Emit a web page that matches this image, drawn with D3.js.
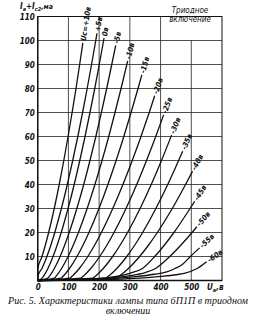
<!DOCTYPE html>
<html><head><meta charset="utf-8">
<script src="https://cdn.jsdelivr.net/npm/d3@7"></script>
<style>
html,body{margin:0;padding:0;background:#fff;}
svg{display:block;}
.tk text{font-family:"DejaVu Sans Condensed","DejaVu Sans",sans-serif;font-stretch:condensed;font-style:italic;font-weight:bold;font-size:8px;fill:#111;}
</style></head>
<body>
<script>
// grid voltages of the family (labels)
const gridVoltageLabels = ["Uс=+10в","+5в","0в","-5в","-10в","-15в","-20в","-25в","-30в","-35в","-40в","-45в","-50в","-55в","-60в"];
// anode voltage (V) of each curve
const anodeV = [
  [0,0.4,14,25.5,35.7,53.9,70.1,85,98.9,112,124.7,136.6,147],
  [0,1.2,13.8,30,43.5,55.6,77.2,96.4,114,130.6,146.1,161.1,175.3,189,193],
  [0,14.5,20.3,33.3,50,64,76.6,98.8,118.8,137,154.1,170.2,185.7,200.4,214.6,216],
  [0,33.3,39.7,54.2,73,88.6,102.6,127.5,149.8,170.2,189.3,207.3,224.6,241.1,254],
  [0,53.9,61.1,77.7,99,116.8,132.7,161,186.3,209.5,231.3,251.7,271.4,293],
  [0,76.1,84.4,103.5,128,148.5,166.9,199.5,228.6,255.3,280.4,303.9,326.6,339],
  [0,104.2,113.7,135.4,163.2,186.5,207.4,244.4,277.5,307.8,336.3,363.1,381],
  [0,139.9,149.9,172.7,202,226.6,248.5,287.5,322.4,354.3,384.3,410],
  [0,100,179.2,189.6,213.4,244,269.7,292.5,333.3,369.7,403,436],
  [0,120,221.2,232.3,257.6,290,317.3,341.6,384.8,423.4,458.8,472],
  [0,150,254.6,267,295.4,331.8,362.3,389.6,438.1,481.4,504],
  [0,150,250,300,341,381,414,443.5,496,511],
  [0,150,250,300,350,384,430,468,502.5,518],
  [0,150,250,320,380,420,447,470,497,527],
  [0,150,250,332,400,450,477,519,550]
];
// anode + screen current (mA) of each curve
const anodeI = [
  [0,5,10,15,20,30,40,50,60,70,80,90,99],
  [0,2,5,10,15,20,30,40,50,60,70,80,90,100,103],
  [0,1,2,5,10,15,20,30,40,50,60,70,80,90,100,101],
  [0,1,2,5,10,15,20,30,40,50,60,70,80,90,98],
  [0,1,2,5,10,15,20,30,40,50,60,70,80,91.5],
  [0,1,2,5,10,15,20,30,40,50,60,70,80,85.7],
  [0,1,2,5,10,15,20,30,40,50,60,70,77],
  [0,1,2,5,10,15,20,30,40,50,60,69],
  [0,0.5,1,2,5,10,15,20,30,40,50,60.6],
  [0,0.5,1,2,5,10,15,20,30,40,50,53.9],
  [0,0.6,1,2,5,10,15,20,30,40,45.5],
  [0,0.5,1.6,3,5,10,15,20,30,33],
  [0,0.4,1.2,2,3.3,5,10,15,20,22.4],
  [0,0.3,0.9,1.6,2.6,3.6,5,6.6,10,13.6],
  [0,0.2,0.5,1,1.7,2.4,3,5,7.8]
];
const xTicks = [0,100,200,300,400,500];
const yTicks = [10,20,30,40,50,60,70,80,90,100,110];
const xGrid = [100,200,300,400,500];
const yGrid = [10,20,30,40,50,60,70,80,90,100];
const captionLines = ["Рис. 5. Характеристики лампы типа 6П1П в триодном","включении"];
const boxText = ["Триодное","включение"];

const W=259,H=317;
const svg=d3.select("body").append("svg").attr("width",W).attr("height",H);
svg.append("rect").attr("width",W).attr("height",H).attr("fill","#fff");

const x=d3.scaleLinear().domain([0,600]).range([37.7,222]);
const y=d3.scaleLinear().domain([0,110]).range([280.5,16.5]);

const g=svg.append("g");
// grid
g.selectAll(".hg").data(yGrid).join("line")
  .attr("x1",x(0)).attr("x2",x(600)).attr("y1",d=>y(d)).attr("y2",d=>y(d))
  .attr("stroke","#222").attr("stroke-width",0.8);
g.selectAll(".vg").data(xGrid).join("line")
  .attr("x1",d=>x(d)).attr("x2",d=>x(d)).attr("y1",y(0))
  .attr("y2",d=>d===500?y(100):y(110))
  .attr("stroke","#222").attr("stroke-width",0.8);
// frame
g.append("rect").attr("x",x(0)).attr("y",y(110)).attr("width",x(600)-x(0)).attr("height",y(0)-y(110))
  .attr("fill","none").attr("stroke","#111").attr("stroke-width",1);
g.append("line").attr("x1",x(0)).attr("x2",x(0)).attr("y1",y(0)).attr("y2",y(110)).attr("stroke","#111").attr("stroke-width",1.4);
g.append("line").attr("x1",x(0)).attr("x2",x(600)).attr("y1",y(0)).attr("y2",y(0)).attr("stroke","#111").attr("stroke-width",1.4);

// axes
const ya=svg.append("g").attr("class","tk").attr("transform",`translate(${x(0)},0)`)
  .call(d3.axisLeft(y).tickValues(yTicks).tickSize(0).tickPadding(3));
ya.select(".domain").remove();
ya.selectAll("text").attr("dy","0.35em");
const xa=svg.append("g").attr("class","tk").attr("transform",`translate(0,${y(0)})`)
  .call(d3.axisBottom(x).tickValues(xTicks).tickSize(0).tickPadding(4));
xa.select(".domain").remove();

// axis titles
const ft='"DejaVu Sans Condensed","DejaVu Sans",sans-serif';
const yt=svg.append("text").attr("x",20).attr("y",8.5).attr("font-family",ft).attr("font-style","italic")
  .attr("font-weight","bold").attr("font-size",8).attr("fill","#111");
yt.append("tspan").text("I");
yt.append("tspan").attr("font-size",5.5).attr("dy",2).text("а");
yt.append("tspan").attr("dy",-2).text("+I");
yt.append("tspan").attr("font-size",5.5).attr("dy",2).text("с2");
yt.append("tspan").attr("dy",-2).attr("font-size",7).text(",ма");
const xt=svg.append("text").attr("x",207).attr("y",290).attr("font-family",ft).attr("font-style","italic")
  .attr("font-weight","bold").attr("font-size",8).attr("fill","#111");
xt.append("tspan").text("U");
xt.append("tspan").attr("font-size",5.5).attr("dy",2).text("а");
xt.append("tspan").attr("dy",-2).text(",в");

// box text
svg.selectAll(".bt").data(boxText).join("text")
  .attr("x",190).attr("y",(d,i)=>13+i*9).attr("text-anchor","middle")
  .attr("font-family",ft).attr("font-style","italic").attr("font-size",8).attr("fill","#111").text(d=>d);

// curves
const line=d3.line().x(d=>x(d[0])).y(d=>y(d[1])).curve(d3.curveMonotoneX);
anodeV.forEach((vs,k)=>{
  const pts=vs.map((v,i)=>[v,anodeI[k][i]]);
  svg.append("path").attr("d",line(pts)).attr("fill","none").attr("stroke","#111").attr("stroke-width",1.3);
  const a=pts[pts.length-2], b=pts[pts.length-1];
  const ang=Math.atan2(y(b[1])-y(a[1]),x(b[0])-x(a[0]))*180/Math.PI;
  svg.append("text").attr("transform",`translate(${x(b[0])},${y(b[1])}) rotate(${ang})`)
    .attr("x",2).attr("dy","0.35em").attr("font-family",ft).attr("font-style","italic").attr("font-weight","bold")
    .attr("font-size",7.5).attr("fill","#111").text(gridVoltageLabels[k]);
});

// caption
svg.append("text").attr("x",8).attr("y",304).attr("textLength",240).attr("lengthAdjust","spacingAndGlyphs")
  .attr("font-family","Liberation Serif,serif").attr("font-style","italic").attr("font-size",10).attr("fill","#111").text(captionLines[0]);
svg.append("text").attr("x",128).attr("y",314).attr("text-anchor","middle")
  .attr("font-family","Liberation Serif,serif").attr("font-style","italic").attr("font-size",10).attr("fill","#111").text(captionLines[1]);
</script>
</body></html>
